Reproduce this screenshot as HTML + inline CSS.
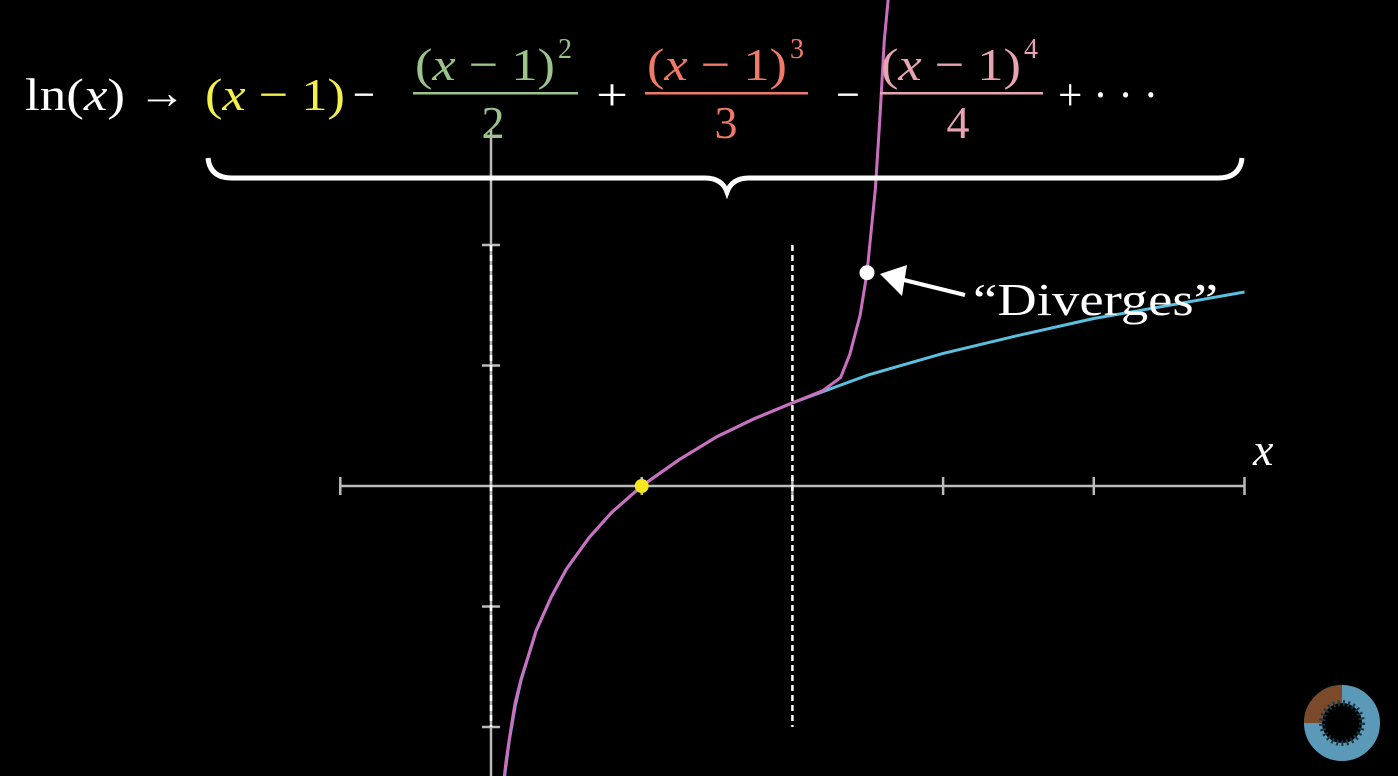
<!DOCTYPE html>
<html><head><meta charset="utf-8"><style>
html,body{margin:0;padding:0;background:#000;overflow:hidden;width:1398px;height:776px;}
svg{display:block;}
text{font-family:"Liberation Serif",serif;}
</style></head><body>
<svg width="1398" height="776" viewBox="0 0 1398 776">
<rect width="1398" height="776" fill="#000"/>
<g id="axes"></g>
<g id="curves"></g>
<g font-size="46">
  <text x="25" y="110" fill="#fff" textLength="100" lengthAdjust="spacingAndGlyphs">ln(<tspan font-style="italic">x</tspan>)</text>
  <text x="138" y="108" fill="#fff" textLength="48" lengthAdjust="spacingAndGlyphs">→</text>
  <text x="205" y="110" fill="#f2f04a" textLength="140" lengthAdjust="spacingAndGlyphs">(<tspan font-style="italic">x</tspan> − 1)</text>
  <text x="353" y="110" fill="#fff" textLength="22" lengthAdjust="spacingAndGlyphs">−</text>
  <g fill="#9cc38a">
    <text x="415" y="80" textLength="140" lengthAdjust="spacingAndGlyphs">(<tspan font-style="italic">x</tspan> − 1)</text>
    <text x="558" y="58" font-size="28">2</text>
    <rect x="413" y="92" width="165" height="2.5"/>
    <text x="493" y="138" text-anchor="middle">2</text>
  </g>
  <text x="596" y="110" fill="#fff" textLength="32" lengthAdjust="spacingAndGlyphs">+</text>
  <g fill="#f07a6a">
    <text x="647" y="80" textLength="140" lengthAdjust="spacingAndGlyphs">(<tspan font-style="italic">x</tspan> − 1)</text>
    <text x="790" y="58" font-size="28">3</text>
    <rect x="645" y="92" width="163" height="2.5"/>
    <text x="726" y="138" text-anchor="middle">3</text>
  </g>
  <text x="836" y="110" fill="#fff" textLength="24" lengthAdjust="spacingAndGlyphs">−</text>
  <g fill="#e8a4b2">
    <text x="881" y="80" textLength="140" lengthAdjust="spacingAndGlyphs">(<tspan font-style="italic">x</tspan> − 1)</text>
    <text x="1024" y="58" font-size="28">4</text>
    <rect x="880" y="92" width="163" height="2.5"/>
    <text x="958" y="138" text-anchor="middle">4</text>
  </g>
  <text x="1058" y="110" fill="#fff" textLength="100" lengthAdjust="spacingAndGlyphs">+ · · ·</text>
</g>
<path d="M208,158 Q210,178 232,178 L705,178 Q722,178 727,192 Q732,178 749,178 L1218,178 Q1240,178 1242,158" fill="none" stroke="#fff" stroke-width="5"/>
<line x1="965" y1="295" x2="900" y2="279" stroke="#fff" stroke-width="4"/>
<polygon points="880,274 907,265 902,296" fill="#fff"/>
<text x="973" y="315" font-size="46" fill="#fff" textLength="245" lengthAdjust="spacingAndGlyphs">“Diverges”</text>
<text x="1253" y="465" font-size="46" font-style="italic" fill="#fff">x</text>
<g>
  <circle cx="1342" cy="723" r="29" fill="none" stroke="#5a9ab8" stroke-width="18"/>
  <path d="M1342,694 A29,29 0 0,0 1313,723" fill="none" stroke="#7a4a2a" stroke-width="18"/>
  <circle cx="1342" cy="723" r="20" fill="none" stroke="#1d3844" stroke-width="6" stroke-dasharray="2 3"/>
</g>
<script>
var xTicks=[-1,0,1,2,3,4,5];
var yTicks=[2,1,-1,-2];
var lnX=[0.055,0.07,0.09,0.12,0.16,0.2,0.3,0.4,0.5,0.65,0.8,1,1.25,1.5,1.75,2,2.5,3,3.5,4,4.5,5];
var lnY=[-2.9,-2.66,-2.41,-2.12,-1.83,-1.61,-1.2,-0.92,-0.69,-0.43,-0.22,0,0.22,0.41,0.56,0.69,0.92,1.1,1.25,1.39,1.5,1.61];
var taylorX=[0.06,0.08,0.1,0.13,0.16,0.2,0.3,0.4,0.5,0.65,0.8,1,1.25,1.5,1.75,2,2.2,2.32,2.38,2.45,2.495,2.55,2.58,2.61,2.635,2.66];
var taylorY=[-2.75,-2.5,-2.28,-2.03,-1.8,-1.6,-1.2,-0.92,-0.69,-0.43,-0.22,0,0.22,0.41,0.56,0.69,0.79,0.9,1.09,1.42,1.77,2.46,3.04,3.7,4.03,4.4];
var dotX=[1,2.495];var dotY=[0,1.77];
var NS='http://www.w3.org/2000/svg';
function sx(v){return 491+v*150.7;}
function sy(v){return 486-v*120.5;}
function mk(t,a,p){var e=document.createElementNS(NS,t);for(var k in a)e.setAttribute(k,a[k]);p.appendChild(e);return e;}
var ax=document.getElementById('axes');
var xa=mk('line',{x1:sx(-1),y1:sy(0),x2:sx(5),y2:sy(0),stroke:'#bbb','stroke-width':2.5},ax);


var ya=mk('line',{x1:sx(0),y1:130,x2:sx(0),y2:776,stroke:'#bbb','stroke-width':2.5},ax);


xTicks.forEach(function(t){var e=mk('line',{x1:sx(t),y1:sy(0)-9,x2:sx(t),y2:sy(0)+9,stroke:'#bbb','stroke-width':2.5},ax);

});
yTicks.forEach(function(t){var e=mk('line',{x1:sx(0)-9,y1:sy(t),x2:sx(0)+9,y2:sy(t),stroke:'#bbb','stroke-width':2.5},ax);

});
[0,2].forEach(function(v){var e=mk('line',{x1:sx(v),y1:sy(2),x2:sx(v),y2:sy(-2),stroke:'#fff','stroke-width':2.5,'stroke-dasharray':'6 4'},ax);

});
var cv=document.getElementById('curves');
function pts(X,Y){return X.map(function(x,i){return sx(x).toFixed(1)+','+sy(Y[i]).toFixed(1);}).join(' ');}
var b=mk('polyline',{points:pts(lnX,lnY),fill:'none',stroke:'#5bc0e0','stroke-width':3,'stroke-linejoin':'round'},cv);


var p=mk('polyline',{points:pts(taylorX,taylorY),fill:'none',stroke:'#cc6fc0','stroke-width':3,'stroke-linejoin':'round'},cv);


var d1=mk('circle',{cx:sx(dotX[0]),cy:sy(dotY[0]),r:7,fill:'#f5e620'},cv);


var d2=mk('circle',{cx:sx(dotX[1]),cy:sy(dotY[1]),r:7.5,fill:'#fff'},cv);


</script>
</svg>
</body></html>
